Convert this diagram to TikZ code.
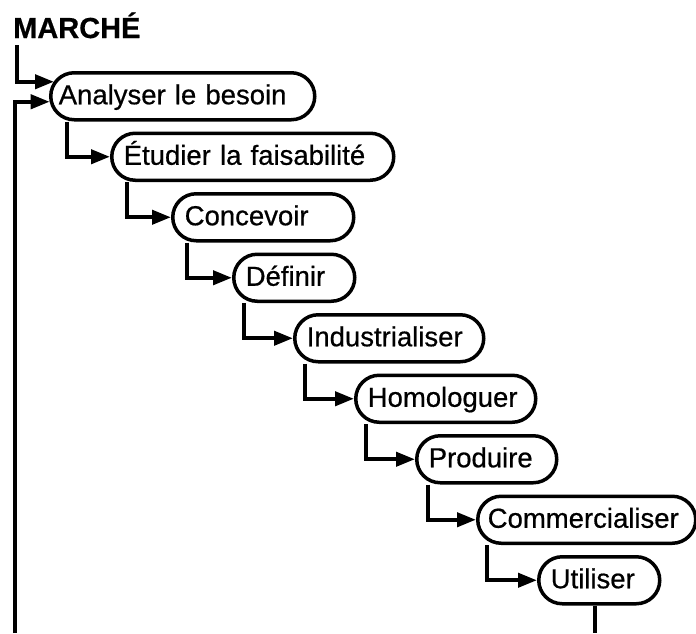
\documentclass[tikz,border=0pt]{standalone}
\usepackage{fontspec}
\setmainfont{Liberation Sans}[FakeBold=0.6]
\usetikzlibrary{arrows.meta,calc}
\tikzset{
  box/.style={draw, line width=3.5pt, rounded corners=23.5pt, anchor=north west,
    minimum height=47pt, inner xsep=12pt, inner ysep=0pt, align=left,
    text height=19pt, text depth=3pt, font=\fontsize{27.5}{30}\selectfont},
  arr/.style={line width=4pt, -{Triangle[length=19pt,width=14pt]}},
  ln/.style={line width=4pt}
}
\begin{document}
\begin{tikzpicture}[x=1pt,y=-1pt]
\useasboundingbox (0,0) rectangle (696,633);
\node[anchor=base west, inner sep=0pt, font=\fontsize{29}{30}\selectfont\bfseries] (M) at (13,38) {MARCHÉ};
\node[box, inner xsep=8pt, text width=248pt] (A0) at (49,71) {\mbox{Analyser le besoin}};
\node[box, text width=258pt] (A1) at (110,131.5) {\mbox{Étudier la faisabilité}};
\node[box, text width=157pt] (A2) at (171,192) {Concevoir};
\node[box, text width=97pt] (A3) at (232,252.5) {Définir};
\node[box, text width=165pt] (A4) at (293,313) {Industrialiser};
\node[box, text width=156pt] (A5) at (354,373.5) {Homologuer};
\node[box, text width=116pt] (A6) at (415,434) {Produire};
\node[box, inner xsep=10pt, text width=198pt] (A7) at (476,494.5) {Commercialiser};
\node[box, text width=97pt] (A8) at (537,555) {Utiliser};
\coordinate (fb) at (15,633);
\coordinate (ub) at (595,633);
\draw[arr] ($(M.south west)+(4,7)$) |- ($(A0.west)+(5,-14.5)$);
\draw[arr] (fb) |- ($(A0.west)+(0.7,5.5)$);
\draw[arr] ($(A0.south west)+(18,0)$) |- (A1.west);
\draw[arr] ($(A1.south west)+(17,0)$) |- (A2.west);
\draw[arr] ($(A2.south west)+(16,0)$) |- (A3.west);
\draw[arr] ($(A3.south west)+(12,0)$) |- (A4.west);
\draw[arr] ($(A4.south west)+(12,0)$) |- (A5.west);
\draw[arr] ($(A5.south west)+(12,0)$) |- (A6.west);
\draw[arr] ($(A6.south west)+(13,0)$) |- (A7.west);
\draw[arr] ($(A7.south west)+(11,0)$) |- (A8.west);
\draw[ln] (A8.south -| ub) -- (ub);
\end{tikzpicture}
\end{document}
